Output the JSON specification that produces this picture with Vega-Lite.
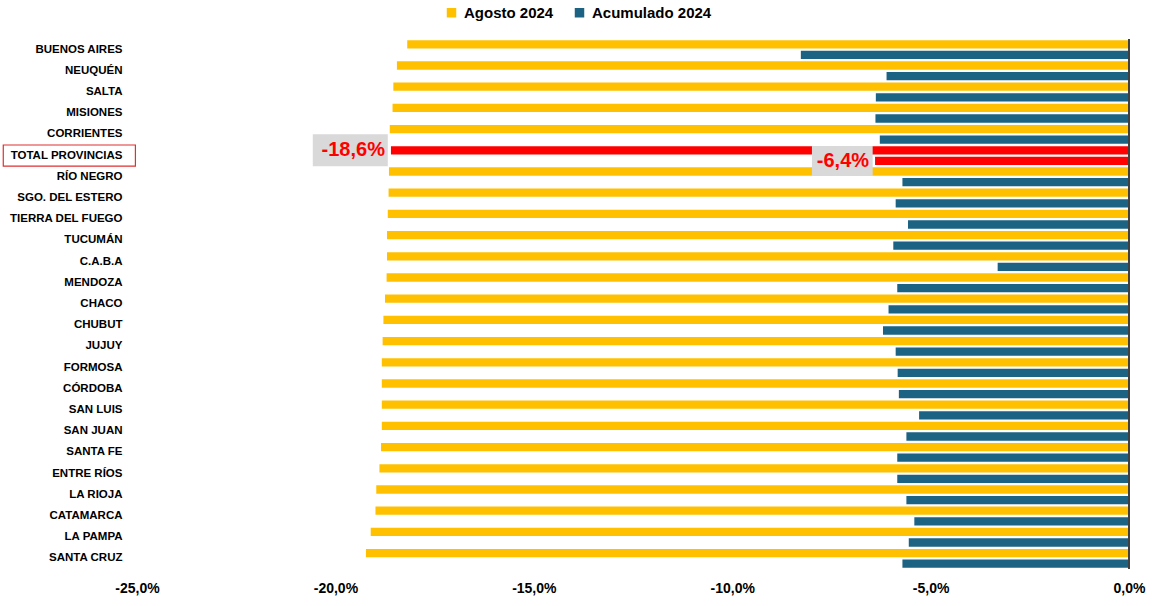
{
  "$schema": "https://vega.github.io/schema/vega-lite/v6.json",
  "width": 992,
  "height": 530,
  "autosize": {"type": "none"},
  "padding": {"left": 137, "top": 39, "right": 27, "bottom": 37},
  "background": "white",
  "config": {
    "view": {"stroke": null},
    "locale": {"number": {"decimal": ",", "thousands": ".", "grouping": [3], "currency": ["$", ""], "minus": "-"}},
    "font": "Liberation Sans"
  },
  "data": {
    "values": [
      {"prov": "BUENOS AIRES", "serie": "Agosto 2024", "value": -0.1819},
      {"prov": "BUENOS AIRES", "serie": "Acumulado 2024", "value": -0.0827},
      {"prov": "NEUQUÉN", "serie": "Agosto 2024", "value": -0.1845},
      {"prov": "NEUQUÉN", "serie": "Acumulado 2024", "value": -0.0611},
      {"prov": "SALTA", "serie": "Agosto 2024", "value": -0.1854},
      {"prov": "SALTA", "serie": "Acumulado 2024", "value": -0.0638},
      {"prov": "MISIONES", "serie": "Agosto 2024", "value": -0.1856},
      {"prov": "MISIONES", "serie": "Acumulado 2024", "value": -0.0639},
      {"prov": "CORRIENTES", "serie": "Agosto 2024", "value": -0.1863},
      {"prov": "CORRIENTES", "serie": "Acumulado 2024", "value": -0.0628},
      {"prov": "TOTAL PROVINCIAS", "serie": "Agosto 2024", "value": -0.186},
      {"prov": "TOTAL PROVINCIAS", "serie": "Acumulado 2024", "value": -0.064},
      {"prov": "RÍO NEGRO", "serie": "Agosto 2024", "value": -0.1865},
      {"prov": "RÍO NEGRO", "serie": "Acumulado 2024", "value": -0.0571},
      {"prov": "SGO. DEL ESTERO", "serie": "Agosto 2024", "value": -0.1866},
      {"prov": "SGO. DEL ESTERO", "serie": "Acumulado 2024", "value": -0.0588},
      {"prov": "TIERRA DEL FUEGO", "serie": "Agosto 2024", "value": -0.1868},
      {"prov": "TIERRA DEL FUEGO", "serie": "Acumulado 2024", "value": -0.0557},
      {"prov": "TUCUMÁN", "serie": "Agosto 2024", "value": -0.187},
      {"prov": "TUCUMÁN", "serie": "Acumulado 2024", "value": -0.0594},
      {"prov": "C.A.B.A", "serie": "Agosto 2024", "value": -0.187},
      {"prov": "C.A.B.A", "serie": "Acumulado 2024", "value": -0.0331},
      {"prov": "MENDOZA", "serie": "Agosto 2024", "value": -0.1871},
      {"prov": "MENDOZA", "serie": "Acumulado 2024", "value": -0.0584},
      {"prov": "CHACO", "serie": "Agosto 2024", "value": -0.1875},
      {"prov": "CHACO", "serie": "Acumulado 2024", "value": -0.0606},
      {"prov": "CHUBUT", "serie": "Agosto 2024", "value": -0.1879},
      {"prov": "CHUBUT", "serie": "Acumulado 2024", "value": -0.062},
      {"prov": "JUJUY", "serie": "Agosto 2024", "value": -0.1881},
      {"prov": "JUJUY", "serie": "Acumulado 2024", "value": -0.0588},
      {"prov": "FORMOSA", "serie": "Agosto 2024", "value": -0.1883},
      {"prov": "FORMOSA", "serie": "Acumulado 2024", "value": -0.0583},
      {"prov": "CÓRDOBA", "serie": "Agosto 2024", "value": -0.1883},
      {"prov": "CÓRDOBA", "serie": "Acumulado 2024", "value": -0.058},
      {"prov": "SAN LUIS", "serie": "Agosto 2024", "value": -0.1883},
      {"prov": "SAN LUIS", "serie": "Acumulado 2024", "value": -0.0529},
      {"prov": "SAN JUAN", "serie": "Agosto 2024", "value": -0.1883},
      {"prov": "SAN JUAN", "serie": "Acumulado 2024", "value": -0.0561},
      {"prov": "SANTA FE", "serie": "Agosto 2024", "value": -0.1885},
      {"prov": "SANTA FE", "serie": "Acumulado 2024", "value": -0.0584},
      {"prov": "ENTRE RÍOS", "serie": "Agosto 2024", "value": -0.1889},
      {"prov": "ENTRE RÍOS", "serie": "Acumulado 2024", "value": -0.0584},
      {"prov": "LA RIOJA", "serie": "Agosto 2024", "value": -0.1897},
      {"prov": "LA RIOJA", "serie": "Acumulado 2024", "value": -0.0561},
      {"prov": "CATAMARCA", "serie": "Agosto 2024", "value": -0.1899},
      {"prov": "CATAMARCA", "serie": "Acumulado 2024", "value": -0.0541},
      {"prov": "LA PAMPA", "serie": "Agosto 2024", "value": -0.1911},
      {"prov": "LA PAMPA", "serie": "Acumulado 2024", "value": -0.0555},
      {"prov": "SANTA CRUZ", "serie": "Agosto 2024", "value": -0.1923},
      {"prov": "SANTA CRUZ", "serie": "Acumulado 2024", "value": -0.0571}
    ]
  },
  "encoding": {
    "y": {
      "field": "prov",
      "type": "nominal",
      "sort": ["BUENOS AIRES", "NEUQUÉN", "SALTA", "MISIONES", "CORRIENTES", "TOTAL PROVINCIAS", "RÍO NEGRO", "SGO. DEL ESTERO", "TIERRA DEL FUEGO", "TUCUMÁN", "C.A.B.A", "MENDOZA", "CHACO", "CHUBUT", "JUJUY", "FORMOSA", "CÓRDOBA", "SAN LUIS", "SAN JUAN", "SANTA FE", "ENTRE RÍOS", "LA RIOJA", "CATAMARCA", "LA PAMPA", "SANTA CRUZ"],
      "scale": {"paddingInner": 0, "paddingOuter": 0},
      "axis": {"title": null, "ticks": false, "domain": false, "labelFont": "Liberation Sans", "labelFontWeight": "bold", "labelFontSize": 11.5, "labelColor": "#000000", "labelPadding": 15}
    }
  },
  "layer": [
    {
      "mark": {"type": "bar"},
      "encoding": {
        "yOffset": {"field": "serie", "type": "nominal", "sort": ["Agosto 2024", "Acumulado 2024"], "scale": {"paddingInner": 0.22, "paddingOuter": 0.11}},
        "x": {
          "field": "value",
          "type": "quantitative",
          "scale": {"domain": [-0.25, 0], "nice": false},
          "axis": {"title": null, "values": [-0.25, -0.2, -0.15, -0.1, -0.05, 0], "format": ".1%", "ticks": false, "domain": false, "grid": false, "labelFlush": false, "labelOverlap": false, "labelFont": "Liberation Sans", "labelFontWeight": "bold", "labelFontSize": 14, "labelColor": "#000000", "labelPadding": 12}
        },
        "color": {
          "field": "serie",
          "type": "nominal",
          "scale": {"domain": ["Agosto 2024", "Acumulado 2024"], "range": ["#FFC000", "#1B6283"]},
          "legend": {"title": null, "orient": "none", "legendX": 307, "legendY": -34, "direction": "horizontal", "symbolType": "square", "symbolSize": 90, "symbolStrokeWidth": 0, "labelFont": "Liberation Sans", "labelFontWeight": "bold", "labelFontSize": 15, "labelColor": "#000000", "columnPadding": 18, "labelOffset": 5},
          "condition": {"test": "datum.prov === 'TOTAL PROVINCIAS'", "value": "#FF0000"}
        }
      }
    },
    {
      "mark": {"type": "rule", "color": "#404040", "strokeWidth": 1},
      "encoding": {"x": {"datum": 0, "type": "quantitative"}, "y": null}
    },
    {
      "transform": [{"filter": "datum.prov === 'TOTAL PROVINCIAS' && datum.serie === 'Agosto 2024'"}],
      "mark": {"type": "rect", "color": "#D9D9D9", "height": 32},
      "encoding": {
        "yOffset": {"field": "serie", "type": "nominal", "sort": ["Agosto 2024", "Acumulado 2024"]},
        "x": {"datum": -0.2057, "type": "quantitative"},
        "x2": {"datum": -0.1868}
      }
    },
    {
      "transform": [{"filter": "datum.prov === 'TOTAL PROVINCIAS' && datum.serie === 'Acumulado 2024'"}],
      "mark": {"type": "rect", "color": "#D9D9D9", "height": 30, "yOffset": 1.5},
      "encoding": {
        "yOffset": {"field": "serie", "type": "nominal", "sort": ["Agosto 2024", "Acumulado 2024"]},
        "x": {"datum": -0.0799, "type": "quantitative"},
        "x2": {"datum": -0.0646}
      }
    },
    {
      "transform": [{"filter": "datum.prov === 'TOTAL PROVINCIAS'"}],
      "mark": {"type": "text", "align": "right", "baseline": "middle", "dx": -6, "font": "Liberation Sans", "fontWeight": "bold", "fontSize": 20, "color": "#FF0000"},
      "encoding": {
        "yOffset": {"field": "serie", "type": "nominal", "sort": ["Agosto 2024", "Acumulado 2024"]},
        "x": {"field": "value", "type": "quantitative"},
        "text": {"field": "value", "type": "quantitative", "format": ".1%"}
      }
    },
    {
      "data": {"values": [{"prov": "TOTAL PROVINCIAS"}]},
      "mark": {"type": "rect", "fill": null, "fillOpacity": 0, "stroke": "#E03030", "strokeWidth": 1.2, "clip": false},
      "encoding": {
        "x": {"datum": -0.2837, "type": "quantitative"},
        "x2": {"datum": -0.2504}
      }
    }
  ]
}
